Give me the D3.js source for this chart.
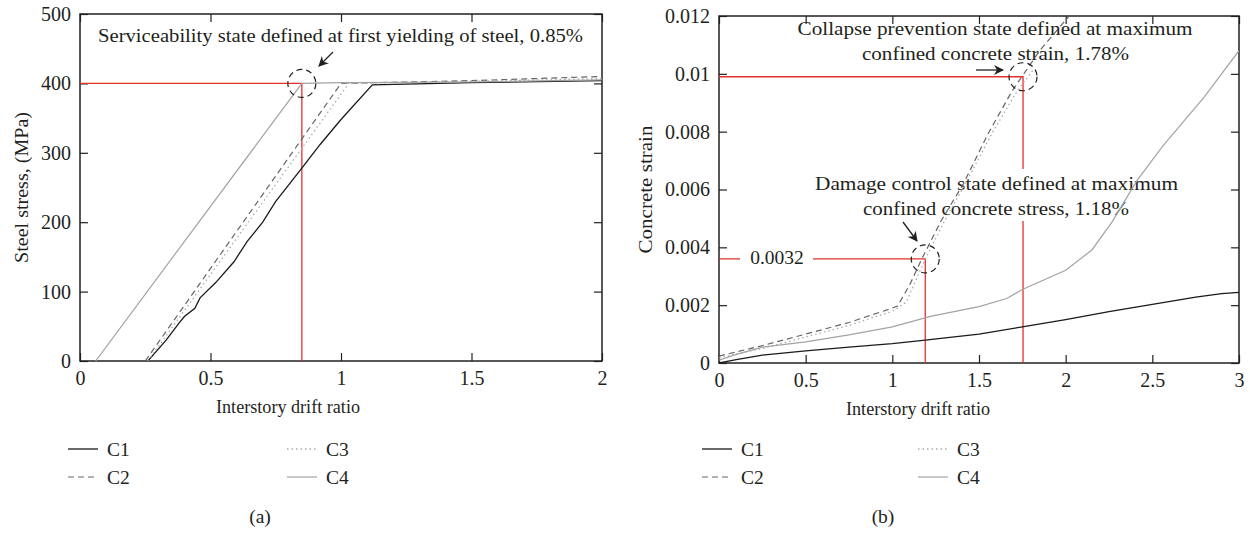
<!DOCTYPE html>
<html>
<head>
<meta charset="utf-8">
<script src="https://cdn.jsdelivr.net/npm/d3@7"></script>
<style>
  body { margin: 0; background: #fff; }
  svg text { font-family: "Liberation Serif", "DejaVu Serif", serif; fill: #231f20; }
</style>
</head>
<body>
<script>
// ---- data ----
const seriesNames = ["C1", "C2", "C3", "C4"];

// (a) steel stress vs drift, [drift %, MPa]
const steelC1 = [[0.26,0],[0.33,30],[0.38,55],[0.40,64],[0.44,76],[0.46,91],[0.52,113],[0.59,143],[0.64,172],[0.70,200],[0.75,230],[0.85,278],[0.92,312],[1.0,348],[1.12,398],[1.5,401],[2.0,404]];
const steelC2 = [[0.25,0],[1.0,400],[1.5,404],[2.0,410]];
const steelC3 = [[0.26,0],[1.03,400],[1.5,403],[2.0,407]];
const steelC4 = [[0.06,0],[0.85,400],[1.0,401],[1.5,402],[2.0,405]];

// (b) concrete strain vs drift, [drift %, strain]
const strainC1 = [[0,0],[0.1,0.00012],[0.25,0.00027],[0.5,0.00042],[0.75,0.00055],[1.0,0.00067],[1.19,0.00079],[1.5,0.001],[1.75,0.00125],[2.0,0.0015],[2.25,0.00178],[2.5,0.00203],[2.75,0.00228],[2.9,0.0024],[3.0,0.00244]];
const strainC2 = [[0,0.00024],[0.25,0.0006],[0.5,0.001],[0.75,0.0014],[1.0,0.0019],[1.03,0.00197],[1.1,0.0027],[1.17,0.0036],[1.28,0.0049],[1.41,0.0062],[1.55,0.0079],[1.69,0.0094],[1.85,0.0108],[2.02,0.012]];
const strainC3 = [[0,0.00018],[0.25,0.0005],[0.5,0.0009],[0.75,0.0013],[1.0,0.00179],[1.08,0.0021],[1.19,0.0036],[1.3,0.0049],[1.43,0.0063],[1.58,0.008],[1.72,0.0094],[1.82,0.0102]];
const strainC4 = [[0,0.0001],[0.1,0.0003],[0.25,0.00055],[0.5,0.00073],[0.75,0.00097],[1.0,0.00125],[1.22,0.00161],[1.5,0.00195],[1.66,0.00223],[1.75,0.00254],[2.0,0.00321],[2.15,0.0039],[2.27,0.0049],[2.41,0.0063],[2.56,0.0075],[2.8,0.0092],[3.0,0.0108]];

const steelXTicks = [0, 0.5, 1, 1.5, 2];
const steelYTicks = [0, 100, 200, 300, 400, 500];
const strainXTicks = [0, 0.5, 1, 1.5, 2, 2.5, 3];
const strainYTicks = [0, 0.002, 0.004, 0.006, 0.008, 0.01, 0.012];

// limit states
const yieldPoint = [0.85, 400];
const damagePoint = [1.19, 0.0036];
const collapsePoint = [1.754, 0.0099];

const width = 1250;
const height = 533;

const styles = {
  C1: { stroke: "#1a1a1a", dash: null, w: 1.3 },
  C2: { stroke: "#666", dash: "6,4", w: 1.2 },
  C3: { stroke: "#aaa", dash: "1.5,3", w: 1.3 },
  C4: { stroke: "#a3a3a3", dash: null, w: 1.2 }
};
const red = "#e5302a";
const fs = "19.5px";

const svg = d3.select("body").append("svg")
  .attr("width", width)
  .attr("height", height);

// text helper; len stretches the line to the width measured on the figure
function txt(g, x, y, str, anchor, len) {
  const t = g.append("text")
    .attr("x", x).attr("y", y)
    .attr("text-anchor", anchor || "start")
    .style("font-size", fs)
    .text(str);
  if (len) t.attr("textLength", len).attr("lengthAdjust", "spacingAndGlyphs");
  return t;
}

function drawPanel(cfg) {
  const x = d3.scaleLinear().domain(cfg.xDomain).range([cfg.left, cfg.right]);
  const y = d3.scaleLinear().domain(cfg.yDomain).range([cfg.bottom, cfg.top]);
  const g = svg.append("g");

  const clipId = "clip-" + cfg.id;
  g.append("clipPath").attr("id", clipId)
    .append("rect")
    .attr("x", cfg.left).attr("y", cfg.top)
    .attr("width", cfg.right - cfg.left).attr("height", cfg.bottom - cfg.top);

  const axisStyle = (sel) => {
    sel.select(".domain").remove();
    sel.selectAll(".tick line").attr("stroke", "#231f20").attr("stroke-width", 1.2);
    sel.selectAll(".tick text").style("font-size", "20px").attr("fill", "#231f20");
  };

  g.append("g").attr("transform", `translate(0,${cfg.bottom})`)
    .call(d3.axisBottom(x).tickValues(cfg.xTicks).tickSize(-8).tickPadding(10).tickFormat(d3.format("")))
    .call(axisStyle);
  g.append("g").attr("transform", `translate(0,${cfg.top})`)
    .call(d3.axisTop(x).tickValues(cfg.xTicks).tickSize(-8).tickFormat(""))
    .call(axisStyle);
  g.append("g").attr("transform", `translate(${cfg.left},0)`)
    .call(d3.axisLeft(y).tickValues(cfg.yTicks).tickSize(-8).tickPadding(9).tickFormat(d3.format("")))
    .call(axisStyle);
  g.append("g").attr("transform", `translate(${cfg.right},0)`)
    .call(d3.axisRight(y).tickValues(cfg.yTicks).tickSize(-8).tickFormat(""))
    .call(axisStyle);

  g.append("rect")
    .attr("x", cfg.left).attr("y", cfg.top)
    .attr("width", cfg.right - cfg.left).attr("height", cfg.bottom - cfg.top)
    .attr("fill", "none").attr("stroke", "#231f20").attr("stroke-width", 1.5);

  // red guide lines
  cfg.guides.forEach(p => {
    g.append("path")
      .attr("d", `M${x(cfg.xDomain[0])},${y(p[1])}H${x(p[0])}V${y(cfg.yDomain[0])}`)
      .attr("fill", "none").attr("stroke", red).attr("stroke-width", 1.3);
  });

  if (cfg.before) cfg.before(g, x, y);

  const line = d3.line().x(d => x(d[0])).y(d => y(d[1]));
  cfg.series.forEach((s, i) => {
    const st = styles[seriesNames[i]];
    g.append("path")
      .datum(s)
      .attr("clip-path", `url(#${clipId})`)
      .attr("d", line)
      .attr("fill", "none")
      .attr("stroke", st.stroke)
      .attr("stroke-width", st.w)
      .attr("stroke-dasharray", st.dash);
  });

  // dashed circles at the limit states
  cfg.guides.forEach(p => {
    g.append("circle")
      .attr("cx", x(p[0])).attr("cy", y(p[1])).attr("r", 14)
      .attr("fill", "none").attr("stroke", "#231f20")
      .attr("stroke-width", 1.2).attr("stroke-dasharray", "6,4");
  });

  if (cfg.after) cfg.after(g, x, y);

  // axis titles
  txt(g, cfg.xTitleX, cfg.bottom + 52, "Interstory drift ratio", "middle", 144);
  txt(g, 0, 0, cfg.yTitle, "middle", cfg.yTitleLen)
    .attr("transform", `translate(${cfg.yTitleX},${(cfg.top + cfg.bottom) / 2}) rotate(-90)`);

  // legend
  const lg = [[0, 0], [0, 1], [1, 0], [1, 1]];
  seriesNames.forEach((name, i) => {
    const st = styles[name];
    const lx = cfg.legendX[lg[i][0]];
    const ly = 449 + lg[i][1] * 28;
    g.append("line")
      .attr("x1", lx).attr("x2", lx + 30).attr("y1", ly).attr("y2", ly)
      .attr("stroke", st.stroke).attr("stroke-width", st.w)
      .attr("stroke-dasharray", st.dash);
    txt(g, lx + 39, ly + 7, name);
  });

  txt(g, cfg.labelX, 523, cfg.label, "middle");
}

function arrow(g, x1, y1, x2, y2) {
  g.append("line")
    .attr("x1", x1).attr("y1", y1).attr("x2", x2).attr("y2", y2)
    .attr("stroke", "#231f20").attr("stroke-width", 1.3)
    .attr("marker-end", "url(#arrowhead)");
}

svg.append("defs").append("marker")
  .attr("id", "arrowhead")
  .attr("viewBox", "0 0 10 10")
  .attr("refX", 9).attr("refY", 5)
  .attr("markerWidth", 10).attr("markerHeight", 10)
  .attr("markerUnits", "userSpaceOnUse")
  .attr("orient", "auto")
  .append("path").attr("d", "M0,0L10,5L0,10L3,5Z").attr("fill", "#231f20");

drawPanel({
  id: "a",
  left: 80, right: 602, top: 14, bottom: 361,
  xDomain: [0, 2], yDomain: [0, 500],
  xTicks: steelXTicks, yTicks: steelYTicks,
  series: [steelC1, steelC2, steelC3, steelC4],
  guides: [yieldPoint],
  yTitle: "Steel stress, (MPa)", yTitleX: 28, yTitleLen: 151,
  xTitleX: 288, legendX: [68, 287], labelX: 260, label: "(a)",
  after: (g, x, y) => {
    txt(g, 98, 42, "Serviceability state defined at first yielding of steel, 0.85%", "start", 485);
    arrow(g, 333, 52, 319, 66);
  }
});

drawPanel({
  id: "b",
  left: 719, right: 1239, top: 16, bottom: 363,
  xDomain: [0, 3], yDomain: [0, 0.012],
  xTicks: strainXTicks, yTicks: strainYTicks,
  series: [strainC1, strainC2, strainC3, strainC4],
  guides: [damagePoint, collapsePoint],
  yTitle: "Concrete strain", yTitleX: 652, yTitleLen: 128,
  xTitleX: 918, legendX: [702, 918], labelX: 883, label: "(b)",
  before: (g, x, y) => {
    // white backings that interrupt the red guides
    g.append("rect").attr("x", 740).attr("y", 247).attr("width", 73).attr("height", 22).attr("fill", "#fff");
    txt(g, 777, 264, "0.0032", "middle");
    g.append("rect").attr("x", 815).attr("y", 169).attr("width", 363).attr("height", 52).attr("fill", "#fff");
    txt(g, 996.5, 190, "Damage control state defined at maximum", "middle", 363);
    txt(g, 996, 215, "confined concrete stress, 1.18%", "middle", 266);
  },
  after: (g, x, y) => {
    txt(g, 995, 35, "Collapse prevention state defined at maximum", "middle", 395);
    txt(g, 995.5, 60, "confined concrete strain, 1.78%", "middle", 267);
    arrow(g, 976, 70, 1003, 70);
    arrow(g, 903, 222, 917, 241);
  }
});
</script>
</body>
</html>
